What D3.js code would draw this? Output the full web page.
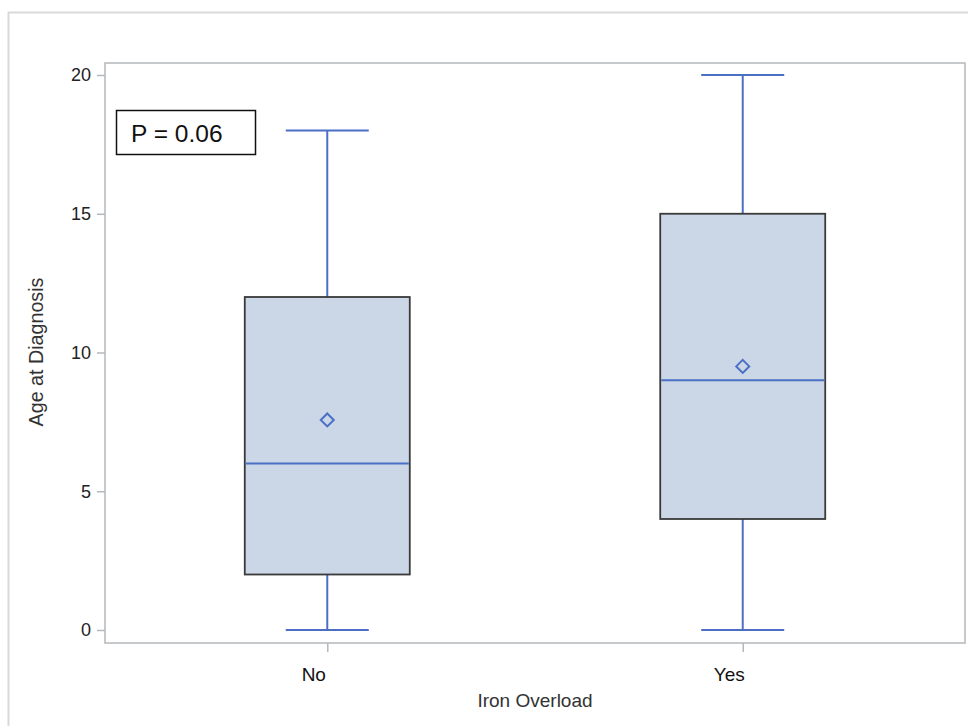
<!DOCTYPE html>
<html>
<head>
<meta charset="utf-8">
<script src="https://cdn.jsdelivr.net/npm/d3@7"></script>
<style>
  html, body { margin: 0; padding: 0; background: #fff; }
  svg { display: block; }
</style>
</head>
<body>
<svg id="chart" width="968" height="726"></svg>
<script>
// Box plot summary: Age at Diagnosis by Iron Overload
const groups = ["No", "Yes"];
const whiskerLow = [0, 0];
const q1 = [2, 4];
const median = [6, 9];
const q3 = [12, 15];
const whiskerHigh = [18, 20];
const means = [7.57, 9.5];
const yTicks = [0, 5, 10, 15, 20];
const annotation = "P = 0.06";

const svg = d3.select("#chart");
const W = 968, H = 726;
const plot = { left: 105, top: 63, right: 965, bottom: 643 };
const font = "Liberation Sans, Arial, sans-serif";

// Outer frame
svg.append("path")
  .attr("d", `M8.5,${H} V12.5 H${W}`)
  .attr("fill", "none").attr("stroke", "#d9d9d9").attr("stroke-width", 2);

const y = d3.scaleLinear().domain([0, 20]).range([630, 75]);
const x = d3.scalePoint().domain(groups).range([plot.left, plot.right]).padding(0.535);

const boxW = 165, capW = 83;
const blue = "#4a6fc4";
const axisGray = "#b4b8bc";

// Plot frame
svg.append("rect")
  .attr("x", plot.left).attr("y", plot.top)
  .attr("width", plot.right - plot.left).attr("height", plot.bottom - plot.top)
  .attr("fill", "none").attr("stroke", axisGray).attr("stroke-width", 1.5);

// Y axis
const yAxis = d3.axisLeft(y).tickValues(yTicks).tickSize(8).tickPadding(6);
const gy = svg.append("g").attr("transform", `translate(${plot.left},0)`).call(yAxis);
gy.select(".domain").remove();
gy.selectAll(".tick line").attr("stroke", axisGray).attr("stroke-width", 1.5);
gy.selectAll(".tick text")
  .attr("font-family", font)
  .attr("font-size", 18).attr("fill", "#222");

// X axis
const xAxis = d3.axisBottom(x).tickSize(9).tickPadding(12);
const gx = svg.append("g").attr("transform", `translate(0,${plot.bottom})`).call(xAxis);
gx.select(".domain").remove();
gx.selectAll(".tick line").attr("stroke", axisGray).attr("stroke-width", 1.5);
gx.selectAll(".tick text")
  .attr("font-family", font)
  .attr("font-size", 19).attr("fill", "#111")
  .attr("x", -14).attr("y", 38).attr("dy", null);

// Axis titles
svg.append("text")
  .attr("x", 535).attr("y", 707)
  .attr("text-anchor", "middle")
  .attr("font-family", font)
  .attr("font-size", 19).attr("fill", "#333")
  .text("Iron Overload");

svg.append("text")
  .attr("transform", `translate(43,352) rotate(-90)`)
  .attr("text-anchor", "middle")
  .attr("font-family", font)
  .attr("font-size", 19.7).attr("fill", "#333")
  .text("Age at Diagnosis");

// Boxes
const data = groups.map((g, i) => ({
  g, lo: whiskerLow[i], q1: q1[i], med: median[i], q3: q3[i], hi: whiskerHigh[i], mean: means[i]
}));

const box = svg.append("g").selectAll("g").data(data).join("g");

// whiskers
box.append("line")
  .attr("x1", d => x(d.g)).attr("x2", d => x(d.g))
  .attr("y1", d => y(d.lo)).attr("y2", d => y(d.q1))
  .attr("stroke", blue).attr("stroke-width", 2);
box.append("line")
  .attr("x1", d => x(d.g)).attr("x2", d => x(d.g))
  .attr("y1", d => y(d.q3)).attr("y2", d => y(d.hi))
  .attr("stroke", blue).attr("stroke-width", 2);
// caps
box.selectAll("line.cap").data(d => [{ g: d.g, v: d.lo }, { g: d.g, v: d.hi }]).join("line")
  .attr("class", "cap")
  .attr("x1", d => x(d.g) - capW / 2).attr("x2", d => x(d.g) + capW / 2)
  .attr("y1", d => y(d.v)).attr("y2", d => y(d.v))
  .attr("stroke", blue).attr("stroke-width", 2);
// box body
box.append("rect")
  .attr("x", d => x(d.g) - boxW / 2).attr("width", boxW)
  .attr("y", d => y(d.q3)).attr("height", d => y(d.q1) - y(d.q3))
  .attr("fill", "#cbd6e6").attr("stroke", "#3a3a3a").attr("stroke-width", 1.8);
// median
box.append("line")
  .attr("x1", d => x(d.g) - boxW / 2 + 1).attr("x2", d => x(d.g) + boxW / 2 - 1)
  .attr("y1", d => y(d.med)).attr("y2", d => y(d.med))
  .attr("stroke", blue).attr("stroke-width", 2);
// mean marker
box.append("path")
  .attr("transform", d => `translate(${x(d.g)},${y(d.mean)})`)
  .attr("d", "M0,-6.5 L6.5,0 L0,6.5 L-6.5,0 Z")
  .attr("fill", "none").attr("stroke", blue).attr("stroke-width", 2);

// Annotation box
svg.append("rect")
  .attr("x", 116.5).attr("y", 110.5).attr("width", 139).attr("height", 44)
  .attr("fill", "#fff").attr("stroke", "#111").attr("stroke-width", 1.5);
svg.append("text")
  .attr("x", 131).attr("y", 142)
  .attr("font-family", font)
  .attr("font-size", 24.5).attr("fill", "#111")
  .text(annotation);
</script>
</body>
</html>
